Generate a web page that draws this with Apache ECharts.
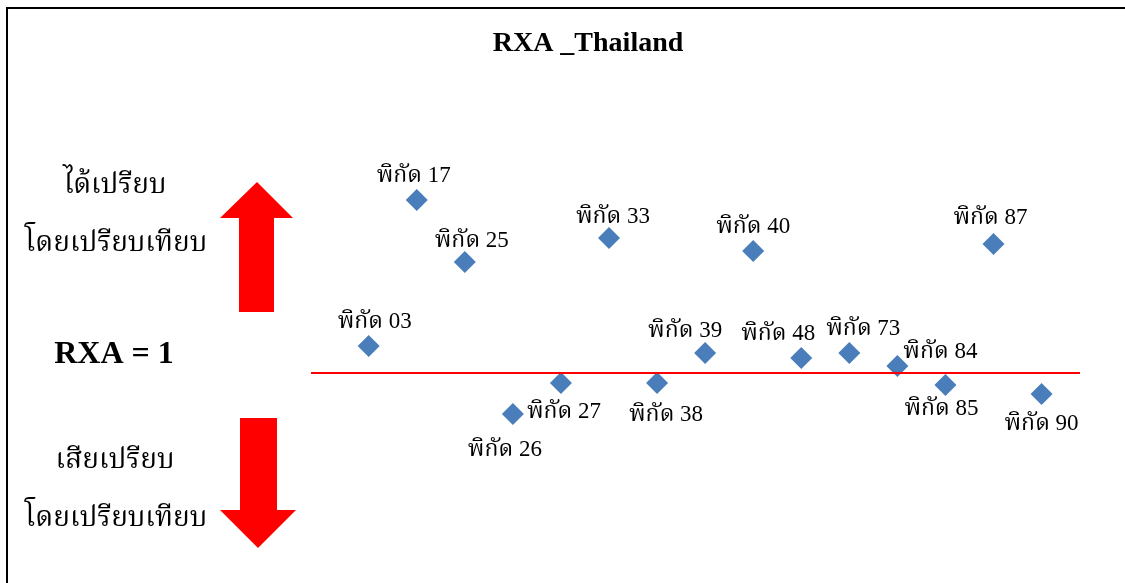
<!DOCTYPE html>
<html>
<head>
<meta charset="utf-8">
<script src="https://cdn.jsdelivr.net/npm/echarts@6/dist/echarts.min.js"></script>
<style>
  html, body { margin: 0; padding: 0; background: #fff; }
  #chart { width: 1125px; height: 583px; }
</style>
</head>
<body>
<div id="chart"></div>
<script>
// HS chapter codes (พิกัด) and their RXA index for Thailand
const codes = ['03', '17', '25', '26', '27', '33', '38', '39', '40', '48', '73', '84', '85', '87', '90'];
const rxaValues = [1.27, 2.73, 2.11, 0.59, 0.90, 2.35, 0.90, 1.20, 2.22, 1.15, 1.20, 1.07, 0.88, 2.29, 0.79];
const threshold = 1;

// label placement around each diamond (dx, dy in px from the marker centre)
const labelOffsets = [
  [6, -24], [-3, -24], [7, -21], [-8, 36], [3, 29], [4, -21], [9, 32], [-20, -22],
  [0, -24], [-23, -24], [14, -24], [43, -14], [-4, 24], [-3, -26], [0, 30]
];

const serif = "'Liberation Serif', 'Times New Roman', 'Noto Serif Thai', 'Noto Sans Thai', serif";

const points = codes.map((c, i) => ({
  value: [i + 1, rxaValues[i]],
  name: 'พิกัด ' + c,
  label: { offset: labelOffsets[i] }
}));

const chart = echarts.init(document.getElementById('chart'), null, { renderer: 'canvas' });

chart.setOption({
  backgroundColor: '#ffffff',
  animation: false,
  grid: { left: 311, right: 45, top: 173, bottom: 110 },
  xAxis: { type: 'value', min: -0.2, max: 15.8, show: false },
  yAxis: { type: 'value', min: 0, max: 3, show: false },
  series: [{
    type: 'scatter',
    symbol: 'diamond',
    symbolSize: 22,
    itemStyle: { color: '#4A7EBB', opacity: 1 },
    data: points,
    label: {
      show: true,
      position: 'inside',
      formatter: p => p.name,
      fontFamily: serif,
      fontSize: 23,
      color: '#000',
      opacity: 1
    },
    markLine: {
      silent: true,
      symbol: 'none',
      label: { show: false },
      lineStyle: { color: '#FF0000', width: 2, type: 'solid', opacity: 1 },
      data: [{ yAxis: threshold }]
    },
    z: 3
  }],
  graphic: [
    // frame lines along top and left edges
    { type: 'line', shape: { x1: 6, y1: 8, x2: 1125, y2: 8 }, style: { stroke: '#000', lineWidth: 2 } },
    { type: 'line', shape: { x1: 7, y1: 8, x2: 7, y2: 583 }, style: { stroke: '#000', lineWidth: 2 } },
    // chart title
    { type: 'text', x: 588, y: 44, style: { text: 'RXA _Thailand', font: 'bold 28px ' + serif, fill: '#000', textAlign: 'center', textVerticalAlign: 'middle' } },
    // side captions
    { type: 'text', x: 115, y: 186, style: { text: 'ได้เปรียบ', font: '28px ' + serif, fill: '#000', textAlign: 'center', textVerticalAlign: 'middle' } },
    { type: 'text', x: 116, y: 244, style: { text: 'โดยเปรียบเทียบ', font: '28px ' + serif, fill: '#000', textAlign: 'center', textVerticalAlign: 'middle' } },
    { type: 'text', x: 114, y: 355, style: { text: 'RXA = 1', font: 'bold 32px ' + serif, fill: '#000', textAlign: 'center', textVerticalAlign: 'middle' } },
    { type: 'text', x: 115, y: 461, style: { text: 'เสียเปรียบ', font: '28px ' + serif, fill: '#000', textAlign: 'center', textVerticalAlign: 'middle' } },
    { type: 'text', x: 116, y: 519, style: { text: 'โดยเปรียบเทียบ', font: '28px ' + serif, fill: '#000', textAlign: 'center', textVerticalAlign: 'middle' } },
    // up arrow (advantage)
    { type: 'polygon', shape: { points: [[257, 182], [293, 218], [274, 218], [274, 312], [239, 312], [239, 218], [220, 218]] }, style: { fill: '#FF0000' } },
    // down arrow (disadvantage)
    { type: 'polygon', shape: { points: [[240, 418], [277, 418], [277, 510], [296, 510], [258, 548], [220, 510], [240, 510]] }, style: { fill: '#FF0000' } }
  ]
});
</script>
</body>
</html>
